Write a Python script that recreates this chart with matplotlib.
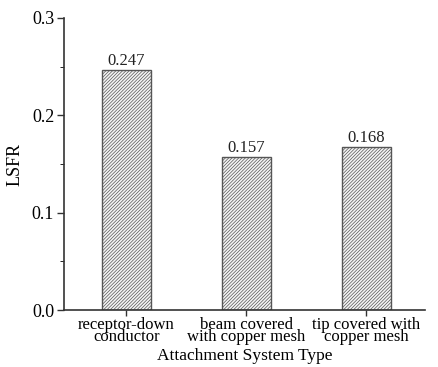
import matplotlib
matplotlib.use("Agg")
import matplotlib.pyplot as plt

categories = ["receptor-down\nconductor", "beam covered\nwith copper mesh", "tip covered with\ncopper mesh"]
values = [0.247, 0.157, 0.168]
value_labels = ["0.247", "0.157", "0.168"]
yticks = [0.0, 0.1, 0.2, 0.3]

plt.rcParams['font.family'] = ['Liberation Serif', 'DejaVu Serif']
plt.rcParams['hatch.color'] = '#8a8a8a'
plt.rcParams['hatch.linewidth'] = 0.5

fig = plt.figure(figsize=(4.38, 3.67), dpi=100)
ax = fig.add_axes([0.146, 0.155, 0.824, 0.796])

x = list(range(len(categories)))
bars = ax.bar(x, values, width=0.41, facecolor='#f4f4f4', edgecolor='#555555',
              linewidth=1.0, hatch='//////////')
for xi, v, lab in zip(x, values, value_labels):
    ax.text(xi, v + 0.001, lab, ha='center', va='bottom', fontsize=12, color='#222222')

ax.set_xlim(-0.52, 2.49)
ax.set_ylim(0, 0.3)
ax.set_yticks(yticks)
ax.set_yticklabels([f"{t:.1f}" for t in yticks], fontsize=13)
ax.set_yticks([0.05, 0.15, 0.25], minor=True)
ax.set_xticks(x)
ax.set_xticklabels(categories, fontsize=12, linespacing=0.7)
ax.tick_params(axis='both', direction='out', color='#333333', width=1.0)
ax.tick_params(axis='y', which='major', length=5, pad=2)
ax.tick_params(axis='y', which='minor', length=3)
ax.tick_params(axis='x', length=4, pad=1)
for s in ['top', 'right']:
    ax.spines[s].set_visible(False)
for s in ['left', 'bottom']:
    ax.spines[s].set_color('#333333')
    ax.spines[s].set_linewidth(1.2)
ax.set_ylabel("LSFR", fontsize=13, labelpad=6)
ax.set_xlabel("Attachment System Type", fontsize=12.5, labelpad=2)

fig.savefig("out.png", dpi=100)
